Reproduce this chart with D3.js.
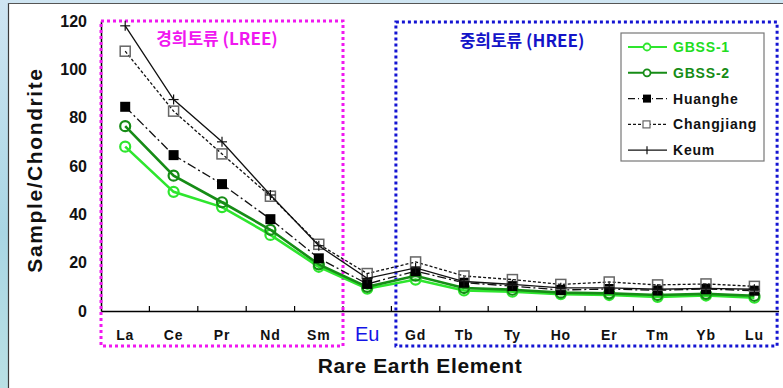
<!DOCTYPE html>
<html>
<head>
<meta charset="utf-8">
<script src="https://cdn.jsdelivr.net/npm/d3@7/dist/d3.min.js"></script>
<style>
  html, body { margin: 0; padding: 0; background: #fff; }
  svg { display: block; }
</style>
</head>
<body>
<svg id="chart" width="783" height="388"></svg>
<script>
// Rare earth elements, chondrite-normalised
const elements = ["La","Ce","Pr","Nd","Sm","Eu","Gd","Tb","Ty","Ho","Er","Tm","Yb","Lu"];
const lightGroup = ["La","Ce","Pr","Nd","Sm"];
const heavyGroup = ["Gd","Tb","Ty","Ho","Er","Tm","Yb","Lu"];
const yTicks = [0, 20, 40, 60, 80, 100, 120];

const gbss1     = [68, 49.3, 43, 31.5, 18.3, 9.2, 13, 8.5, 8, 7, 6.6, 5.8, 6.4, 5.5];
const gbss2     = [76.5, 56, 45, 33.6, 19.3, 10, 14.6, 9.5, 8.8, 7.6, 7.3, 6.6, 7.1, 6.3];
const huanghe   = [84.5, 64.5, 52.5, 38, 21.8, 11.2, 16.5, 11.7, 10.3, 8.7, 9.1, 8.5, 9.1, 8.4];
const changjiang= [107.5, 82.7, 65, 47.5, 27.6, 15.5, 20.3, 14.5, 13, 11, 12, 10.8, 11.2, 10.2];
const keum      = [118, 87.5, 70, 48, 27, 13.5, 17.8, 12.2, 11, 9.6, 9.6, 9, 9.4, 9];

const seriesNames = ["GBSS-1","GBSS-2","Huanghe","Changjiang","Keum"];

const svg = d3.select("#chart");

// slide backdrop
const defs = svg.append("defs");
const grad = defs.append("linearGradient").attr("id","edge").attr("x1",0).attr("y1",0).attr("x2",0).attr("y2",1);
grad.append("stop").attr("offset","0%").attr("stop-color","#cfe5f2");
grad.append("stop").attr("offset","60%").attr("stop-color","#a9d6e4");
grad.append("stop").attr("offset","100%").attr("stop-color","#b9e0e4");
svg.append("rect").attr("width",783).attr("height",388).attr("fill","url(#edge)");
svg.append("rect").attr("x",8).attr("y",3).attr("width",775).attr("height",385).attr("fill","#ffffff");
svg.append("line").attr("x1",8.5).attr("x2",8.5).attr("y1",3).attr("y2",388).attr("stroke","#3a3a3a").attr("stroke-width",1.2);
svg.append("line").attr("x1",8).attr("x2",783).attr("y1",3.5).attr("y2",3.5).attr("stroke","#555").attr("stroke-width",1);

const x = d3.scaleBand().domain(elements).range([101, 778.6]).padding(0);
const y = d3.scaleLinear().domain([0, 120]).range([311, 21]);
const cx = d => x(d) + x.bandwidth() / 2;

// axes
const yAxis = svg.append("g").attr("transform","translate(101,0)")
  .call(d3.axisLeft(y).tickValues(yTicks).tickSize(0).tickPadding(14));
yAxis.select(".domain").attr("stroke","#000").attr("stroke-width",1.5);
yAxis.selectAll("text").attr("font-family","Liberation Sans, Arial, sans-serif")
  .attr("font-weight","bold").attr("font-size",16).attr("fill","#111");

const xAxis = svg.append("g").attr("transform","translate(0,311)")
  .call(d3.axisBottom(x).tickSize(0).tickPadding(19));
xAxis.select(".domain").attr("stroke","#000").attr("stroke-width",1.5);
xAxis.selectAll("text").attr("font-family","Liberation Sans, Arial, sans-serif")
  .attr("font-weight","bold").attr("font-size",14).attr("fill","#111")
  .attr("letter-spacing","0.8px");
xAxis.selectAll(".tick").filter(d => d === "Eu").select("text")
  .attr("font-weight","normal").attr("font-size",20).attr("fill","#1414e6")
  .attr("font-family","Liberation Sans Narrow, Liberation Sans, sans-serif")
  .attr("letter-spacing","0px")
  .attr("dy","0.55em");

// inner tick marks at band boundaries
const bounds = elements.slice(1).map(e => x(e));
svg.append("g").selectAll("line").data(bounds).join("line")
  .attr("x1", d => d).attr("x2", d => d).attr("y1", 311).attr("y2", 306)
  .attr("stroke","#000").attr("stroke-width",1.2);

// group frames
const lx0 = x(lightGroup[0]), lx1 = x(lightGroup[lightGroup.length-1]) + x.bandwidth();
svg.append("rect").attr("x", lx0).attr("y", 21).attr("width", lx1 - lx0).attr("height", 325)
  .attr("fill","none").attr("stroke","#f018f0").attr("stroke-width",3).attr("stroke-dasharray","3,3");
const hx0 = x(heavyGroup[0]) + 4.5, hx1 = x(heavyGroup[heavyGroup.length-1]) + x.bandwidth() - 1.5;
svg.append("rect").attr("x", hx0).attr("y", 22).attr("width", hx1 - hx0).attr("height", 324)
  .attr("fill","none").attr("stroke","#1414d2").attr("stroke-width",3).attr("stroke-dasharray","3,3");

svg.append("text").attr("x", 217).attr("y", 45).attr("text-anchor","middle")
  .attr("font-family","Noto Sans CJK KR, sans-serif").attr("font-weight","bold").attr("font-size",17)
  .attr("fill","#f018f0").text("경희토류 (LREE)");
svg.append("text").attr("x", 522).attr("y", 47).attr("text-anchor","middle")
  .attr("font-family","Noto Sans CJK KR, sans-serif").attr("font-weight","bold").attr("font-size",17)
  .attr("fill","#1414c8").text("중희토류 (HREE)");

// axis titles
svg.append("text").attr("x", 420).attr("y", 373).attr("text-anchor","middle")
  .attr("font-family","Liberation Sans, Arial, sans-serif").attr("font-weight","bold").attr("font-size",21)
  .attr("letter-spacing","0.6px")
  .attr("fill","#111").text("Rare Earth Element");
svg.append("text").attr("transform","translate(42,170) rotate(-90)").attr("text-anchor","middle")
  .attr("font-family","Liberation Sans, Arial, sans-serif").attr("font-weight","bold").attr("font-size",21)
  .attr("letter-spacing","1.6px")
  .attr("fill","#111").text("Sample/Chondrite");

// series styling
const styles = {
  "GBSS-1":    { values: gbss1, color: "#2ee62e", width: 2.6, dash: null, marker: "circle", text: "#22dd22" },
  "GBSS-2":    { values: gbss2, color: "#168c16", width: 2.6, dash: null, marker: "circle", text: "#168c16" },
  "Huanghe":   { values: huanghe, color: "#111", width: 1.3, dash: "9,3,2,3", marker: "fsquare", text: "#111" },
  "Changjiang":{ values: changjiang, color: "#111", width: 1.3, dash: "3,2", marker: "osquare", text: "#111" },
  "Keum":      { values: keum, color: "#111", width: 1.3, dash: null, marker: "plus", text: "#111" }
};

function drawMarker(g, kind, color, px, py) {
  if (kind === "circle") {
    g.append("circle").attr("cx",px).attr("cy",py).attr("r",5)
      .attr("fill","none").attr("stroke",color).attr("stroke-width",2.2);
  } else if (kind === "fsquare") {
    g.append("rect").attr("x",px-5).attr("y",py-5).attr("width",10).attr("height",10).attr("fill","#000");
  } else if (kind === "osquare") {
    g.append("rect").attr("x",px-5).attr("y",py-5).attr("width",10).attr("height",10)
      .attr("fill","none").attr("stroke","#666").attr("stroke-width",1.5);
  } else if (kind === "plus") {
    g.append("line").attr("x1",px-5).attr("x2",px+5).attr("y1",py).attr("y2",py).attr("stroke","#111").attr("stroke-width",1.2);
    g.append("line").attr("x1",px).attr("x2",px).attr("y1",py-5).attr("y2",py+5).attr("stroke","#111").attr("stroke-width",1.2);
  }
}

const line = d3.line().x((d,i) => cx(elements[i])).y(d => y(d));
const plot = svg.append("g");
seriesNames.forEach(name => {
  const s = styles[name];
  const g = plot.append("g");
  g.append("path").datum(s.values).attr("d", line).attr("fill","none")
    .attr("stroke", s.color).attr("stroke-width", s.width)
    .attr("stroke-dasharray", s.dash);
  s.values.forEach((v,i) => drawMarker(g, s.marker, s.color, cx(elements[i]), y(v)));
});

// legend
const legend = svg.append("g");
legend.append("rect").attr("x",621).attr("y",33).attr("width",143).attr("height",128)
  .attr("fill","#fff").attr("stroke","#777").attr("stroke-width",1.2);
seriesNames.forEach((name, i) => {
  const s = styles[name];
  const ly = 47 + i * 25.8;
  legend.append("line").attr("x1",628).attr("x2",667).attr("y1",ly).attr("y2",ly)
    .attr("stroke", s.color).attr("stroke-width", s.marker === "circle" ? 2 : 1.2)
    .attr("stroke-dasharray", s.dash === "3,2" ? "3,2" : (s.dash ? "7,3,1,3" : null));
  const lg = legend.append("g");
  if (s.marker === "circle") {
    lg.append("circle").attr("cx",647).attr("cy",ly).attr("r",3.5).attr("fill","#fff").attr("stroke",s.color).attr("stroke-width",1.8);
  } else if (s.marker === "fsquare") {
    lg.append("rect").attr("x",643).attr("y",ly-4).attr("width",8).attr("height",8).attr("fill","#000");
  } else if (s.marker === "osquare") {
    lg.append("rect").attr("x",643).attr("y",ly-3.5).attr("width",7).attr("height",7).attr("fill","#fff").attr("stroke","#666").attr("stroke-width",1.2);
  } else {
    lg.append("line").attr("x1",647).attr("x2",647).attr("y1",ly-4).attr("y2",ly+4).attr("stroke","#111").attr("stroke-width",1.2);
  }
  legend.append("text").attr("x",673).attr("y",ly+5)
    .attr("font-family","Liberation Sans, Arial, sans-serif").attr("font-weight","bold")
    .attr("font-size",14).attr("letter-spacing","0.8px").attr("fill", s.text).text(name);
});
</script>
</body>
</html>
